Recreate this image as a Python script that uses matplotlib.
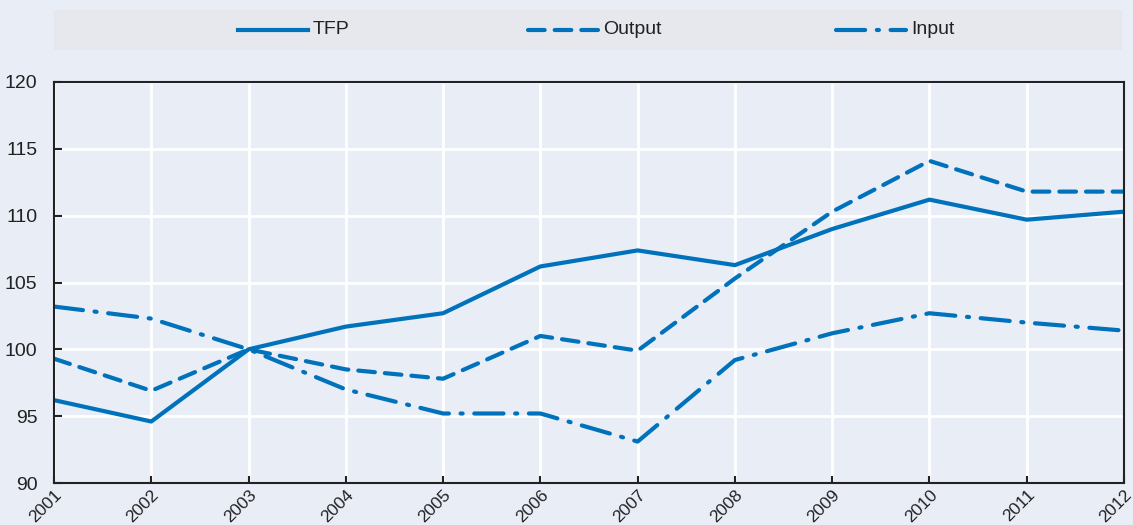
import matplotlib
matplotlib.use('Agg')
import matplotlib.pyplot as plt
from matplotlib import font_manager

years = list(range(2001, 2013))
tfp = [96.2, 94.6, 100.0, 101.7, 102.7, 106.2, 107.4, 106.3, 109.0, 111.2, 109.7, 110.3]
output = [99.3, 96.9, 100.0, 98.5, 97.8, 101.0, 99.9, 105.3, 110.3, 114.1, 111.8, 111.8]
inputs = [103.2, 102.3, 100.0, 97.0, 95.2, 95.2, 93.1, 99.2, 101.2, 102.7, 102.0, 101.4]
labels = ['TFP', 'Output', 'Input']

blue = '#0072BC'
bg = '#E9EDF6'
styles = [dict(), dict(dashes=(4, 2.4), dash_capstyle='round'),
          dict(dashes=(7, 2.8, 0.5, 2.8), dash_capstyle='round')]

names = {f.name for f in font_manager.fontManager.ttflist}
fam = [n for n in ['Liberation Sans Narrow', 'Arial Narrow', 'Liberation Sans'] if n in names]
plt.rcParams['font.family'] = fam + ['DejaVu Sans']

fig = plt.figure(figsize=(11.33, 5.25), dpi=100, facecolor=bg)
ax = fig.add_axes([54/1133, 1-483/525, (1124-54)/1133, (483-82)/525])
ax.set_facecolor(bg)

for vals, st in zip([tfp, output, inputs], styles):
    ax.plot(years, vals, color=blue, lw=3, **st)

ax.set_xlim(2001, 2012)
ax.set_ylim(90, 120)
ax.set_yticks(range(90, 121, 5))
ax.set_xticks(years)
ax.set_xticklabels([str(y) for y in years], rotation=45, ha='right', rotation_mode='anchor', fontsize=12.5, color='#222222')
ax.tick_params(axis='y', labelsize=14, labelcolor='#222222', length=6, width=1.5, direction='in', pad=12, color='#222222')
ax.tick_params(axis='x', length=5, width=1.5, direction='in', pad=3, color='#222222')
ax.grid(True, color='white', lw=2)
ax.set_axisbelow(True)
for s in ['left', 'bottom', 'top', 'right']:
    ax.spines[s].set_color('#222222')
    ax.spines[s].set_linewidth(1.5)

# legend box drawn in pixel coordinates
lax = fig.add_axes([54/1133, 1-50/525, (1122-54)/1133, 40/525])
lax.set_facecolor('#E6E8EE')
lax.set_xlim(54, 1122)
lax.set_ylim(0, 40)
lax.set_xticks([])
lax.set_yticks([])
for s in lax.spines.values():
    s.set_visible(False)
for x0, lab, st in zip([238, 528, 836], labels, styles):
    lax.plot([x0, x0 + 70], [20, 20], color=blue, lw=3, **st)
    lax.text(x0 + 75, 20, lab, fontsize=14, color='#222222', va='center', ha='left')

fig.savefig('out.png', dpi=100, facecolor=bg)
